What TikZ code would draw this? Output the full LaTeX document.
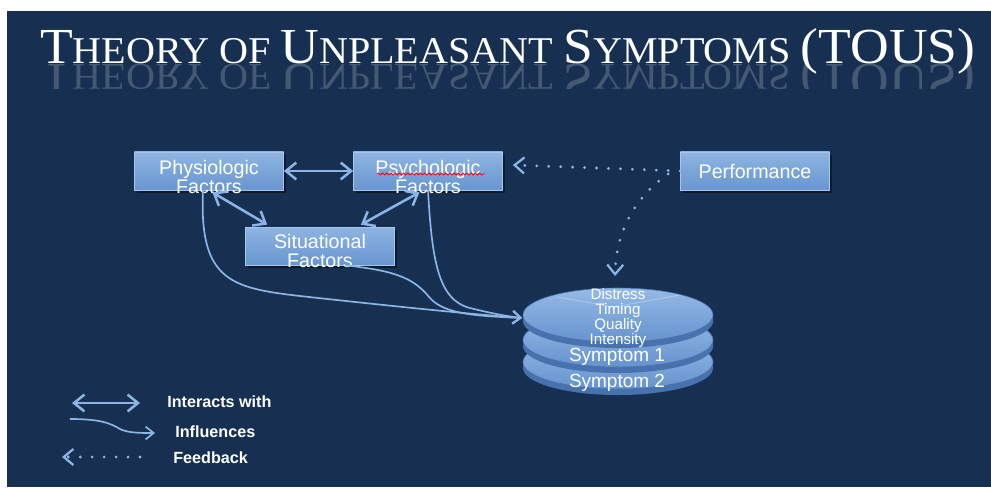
\documentclass[tikz,border=0pt]{standalone}
\usepackage{graphicx}
\usepackage{fontspec}
\setmainfont{Liberation Sans}
\newfontfamily\titlefont{Liberation Serif}
\usetikzlibrary{arrows.meta,calc,shadows,decorations.pathmorphing}

\definecolor{navy}{RGB}{23,48,81}
\definecolor{boxtop}{RGB}{142,180,226}
\definecolor{boxbot}{RGB}{104,150,207}
\definecolor{boxedge}{RGB}{168,198,236}
\definecolor{linkblue}{RGB}{140,180,228}
\definecolor{disktop}{RGB}{150,186,230}
\definecolor{diskbot}{RGB}{102,147,206}
\definecolor{diskside}{RGB}{72,114,174}

\newcommand{\capbig}[1]{{\fontsize{30}{30}\selectfont #1}}
\newcommand{\capsmall}[1]{{\fontsize{22.5}{30}\selectfont #1}}
\newcommand{\toustitle}{\resizebox{23.37cm}{0.875cm}{\titlefont
  \capbig{T}\capsmall{HEORY OF }\capbig{U}\capsmall{NPLEASANT }%
  \capbig{S}\capsmall{YMPTOMS }\capbig{(TOUS)}}}
% one disk of the symptom stack, #1 = y of its top face
\newcommand{\symdisk}[1]{%
  \fill[diskside] (523,#1) -- (523,#1+6)
    arc[start angle=180,end angle=360,x radius=2.375cm,y radius=0.675cm]
    -- (713,#1) -- cycle;
  \shade[top color=disktop,bottom color=diskbot,draw=diskside,line width=0.4pt]
    (618,#1) ellipse[x radius=2.375cm,y radius=0.675cm];
}

\begin{document}
\begin{tikzpicture}[x=0.025cm,y=-0.025cm,
  factor/.style={draw=boxedge,line width=0.5pt,top color=boxtop,bottom color=boxbot,
    minimum width=3.725cm,minimum height=0.95cm,inner sep=0pt,
    drop shadow={shadow xshift=1.5pt,shadow yshift=-2pt,opacity=0.45,fill=black}},
  factortext/.style={align=center,inner sep=0pt,text=white,font=\fontsize{14}{13.5}\selectfont},
  interact/.style={draw=linkblue,line width=1.8pt,
    {Straight Barb[length=2.6mm,width=4.2mm]}-{Straight Barb[length=2.6mm,width=4.2mm]}},
  influence/.style={draw=linkblue,line width=1.2pt,-{Straight Barb[length=2mm,width=3.2mm]}},
  feedback/.style={draw=linkblue,line width=2.2pt,line cap=round,dash pattern=on 0pt off 8.5pt,
    -{Straight Barb[length=2.4mm,width=4mm,line width=1.6pt]}},
  legend/.style={anchor=west,text=white,inner sep=0pt,font=\bfseries\fontsize{11.5}{12}\selectfont},
  symtext/.style={text=white,inner sep=0pt,align=center}
  ]
  \useasboundingbox (0,0) rectangle (991,487);
  \fill[white] (0,0) rectangle (991,487);
  \fill[navy] (7,11) rectangle (991,487);

  % title and its reflection
  \node[anchor=base west,inner sep=0pt,text=white] (title) at (40,63) {\toustitle};
  \begin{scope}
    \clip (30,64) rectangle (990,88);
    \begin{scope}[shift={(40,64)}]
      \node[anchor=base west,inner sep=0pt,text=white,opacity=0.2,yscale=-1,transform shape]
        (titlerefl) at (0,0) {\toustitle};
    \end{scope}
  \end{scope}

  % factors
  \node[factor] (phys) at (209,171) {};
  \node[factor] (psych) at (428,171) {};
  \node[factor] (sit) at (320,246) {};
  \node[factor] (perf) at (755,171) {};
  \node[factortext] (physT) at ($(phys)+(0,6)$) {Physiologic\\Factors};
  \node[factortext] (psychT) at ($(psych)+(0,6)$) {Psychologic\\Factors};
  \node[factortext] (sitT) at ($(sit)+(0,5)$) {Situational\\Factors};
  \node[factortext] (perfT) at (perf) {Performance};
  \draw[red,line width=0.6pt,decorate,decoration={snake,amplitude=0.7pt,segment length=3pt}]
    ($(psych.center)+(-51,3)$) -- ($(psych.center)+(57,3)$);

  % symptom stack
  \symdisk{362}
  \symdisk{340}
  \symdisk{315}
  \draw[white,opacity=0.3,line width=0.6pt] (557,297) -- (614,307) -- (680,295);
  \node[symtext,font=\fontsize{10.8}{10.6}\selectfont] (dims) at (618,318)
    {Distress\\Timing\\Quality\\Intensity};
  \node[symtext,font=\fontsize{13.5}{14}\selectfont] (sym1) at (617,357) {Symptom 1};
  \node[symtext,font=\fontsize{13.5}{14}\selectfont] (sym2) at (617,383) {Symptom 2};
  \coordinate (symin) at (522,318);
  \coordinate (symtop) at (615,276);

  % interactions
  \draw[interact] (phys) -- (psych);
  \draw[interact,shorten <=1mm,shorten >=1mm] (phys.south) -- ($(sit.north west)!0.17!(sit.north east)$);
  \draw[interact,shorten <=1mm,shorten >=1mm] ($(psych.south)+(-5,0)$) -- ($(sit.north west)!0.75!(sit.north east)$);

  % influences
  \draw[influence] ($(phys.south)+(-6,0)$) .. controls (199,280) and (230,288) .. (300,296)
    .. controls (400,307) and (470,314) .. (symin);
  \draw[influence] ($(sit.south)+(25,0)$) .. controls (400,271) and (415,280) .. (430,298)
    .. controls (445,315) and (480,316) .. (symin);
  \draw[influence] (psych.south) .. controls (432,260) and (438,300) .. (470,308)
    .. controls (490,313) and (505,316) .. (symin);

  % feedback
  \draw[feedback] (perf.west) -- ($(psych.east)+(10,-6)$);
  \draw[feedback] ($(perf.west)+(-12,3)$) .. controls (638,195) and (616,228) .. (symtop);

  % legend
  \node[legend] (lgint) at (167,402) {Interacts with};
  \node[legend] (lginf) at (175,432) {Influences};
  \node[legend] (lgfb) at (173,458) {Feedback};
  \coordinate (lgintA) at (72,403);
  \coordinate (lgintB) at (140,403);
  \coordinate (lginfA) at (70,419);
  \coordinate (lginfB) at (155,433);
  \coordinate (lgfbA) at (140,457);
  \coordinate (lgfbB) at (62,457);
  \draw[interact] (lgintA) -- (lgintB);
  \draw[influence] (lginfA) .. controls (100,419) and (110,423) .. (120,429)
    .. controls (128,433) and (140,433) .. (lginfB);
  \draw[feedback] (lgfbA) -- (lgfbB);
\end{tikzpicture}
\end{document}
